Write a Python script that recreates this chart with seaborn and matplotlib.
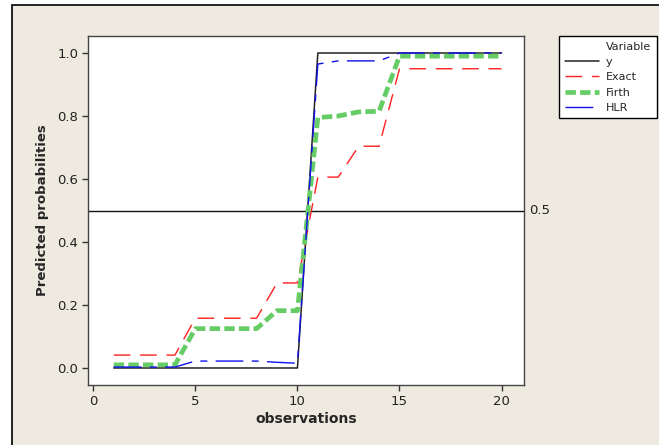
import numpy as np
import pandas as pd
import matplotlib
matplotlib.use("Agg")
import matplotlib.pyplot as plt
from matplotlib.lines import Line2D
from matplotlib.patches import Rectangle
import matplotlib.transforms as mtransforms
import seaborn as sns

observations = list(range(1, 21))
y_obs = [0] * 10 + [1] * 10
exact = [0.041, 0.041, 0.041, 0.041, 0.158, 0.158, 0.158, 0.158, 0.27, 0.27,
         0.606, 0.606, 0.704, 0.704, 0.95, 0.95, 0.95, 0.95, 0.95, 0.95]
firth = [0.01, 0.01, 0.01, 0.01, 0.125, 0.125, 0.125, 0.125, 0.182, 0.182,
         0.795, 0.80, 0.813, 0.815, 0.99, 0.99, 0.99, 0.99, 0.99, 0.99]
hlr = [0.003, 0.003, 0.003, 0.003, 0.022, 0.022, 0.022, 0.022, 0.018, 0.015,
       0.965, 0.975, 0.975, 0.975, 1.0, 1.0, 1.0, 1.0, 1.0, 1.0]
series_names = ["y", "Exact", "Firth", "HLR"]
x_ticks = [0, 5, 10, 15, 20]
y_ticks = [0.0, 0.2, 0.4, 0.6, 0.8, 1.0]
ref_level = 0.5

df = pd.DataFrame({"observations": observations, "y": y_obs, "Exact": exact,
                   "Firth": firth, "HLR": hlr})

sns.set_style("white")
plt.rcParams["font.family"] = ["DejaVu Sans"]

fig = plt.figure(figsize=(6.59, 4.45), dpi=100, facecolor="white")
bg = "#EEEAE0"
fig.patches.append(Rectangle((12 / 659, -0.1), 1.2, 1 - 5 / 445 + 0.1,
                             transform=fig.transFigure, facecolor=bg,
                             edgecolor="black", linewidth=1.2, zorder=-10))

ax = fig.add_axes([88 / 659, 1 - 385 / 445, (524 - 88) / 659, (385 - 36) / 445])
ax.set_facecolor("white")

styles = {
    "y": dict(color="#222222", lw=1.1, ls="-"),
    "Exact": dict(color="#FF2020", lw=1.0, ls=(0, (12, 7))),
    "Firth": dict(color="#66CC66", lw=3.4, ls=(0, (2.2, 0.9))),
    "HLR": dict(color="#1010EE", lw=1.0, ls=(0, (20, 6, 5, 6))),
}
order_z = {"y": 2, "Exact": 3, "Firth": 4, "HLR": 5}
for name in series_names:
    sns.lineplot(data=df, x="observations", y=name, ax=ax,
                 zorder=order_z[name], **styles[name])

ax.axhline(ref_level, color="#111111", lw=1.0, zorder=1)
trans = mtransforms.blended_transform_factory(ax.transAxes, ax.transData)
ax.text(1.012, ref_level, "0.5", transform=trans, va="center", ha="left",
        fontsize=9.5, color="#222222")

ax.set_xlim(-0.26, 21.1)
ax.set_ylim(-0.054, 1.054)
ax.set_xticks(x_ticks)
ax.set_yticks(y_ticks)
ax.set_xticklabels([str(t) for t in x_ticks])
ax.set_yticklabels([f"{t:.1f}" for t in y_ticks])
ax.tick_params(axis="both", direction="out", length=4, width=1, color="#333333",
               labelsize=9.5, labelcolor="#222222", pad=3,
               bottom=True, left=True)
for s in ax.spines.values():
    s.set_color("#444444")
    s.set_linewidth(1.0)
ax.set_xlabel("observations", fontsize=10, fontweight="bold", labelpad=3)
ax.set_ylabel("Predicted probabilities", fontsize=9.5, fontweight="bold", labelpad=6)

handles = [Line2D([], [], **styles[n]) for n in series_names]
leg = fig.legend(handles, series_names, title="Variable",
                 loc="upper left",
                 bbox_to_anchor=(559 / 659, 1 - 120 / 445, 98 / 659, 84 / 445),
                 mode="expand",
                 frameon=True, fancybox=False, framealpha=1.0,
                 fontsize=8, title_fontsize=8,
                 handlelength=3.1, handletextpad=0.6, labelspacing=0.48,
                 borderpad=0.5, alignment="right", borderaxespad=0)
leg.get_frame().set_edgecolor("black")
leg.get_frame().set_linewidth(1.0)
leg.get_frame().set_facecolor("white")
if ax.get_legend() is not None:
    ax.get_legend().remove()

fig.savefig("out.png", dpi=100, facecolor="white")
